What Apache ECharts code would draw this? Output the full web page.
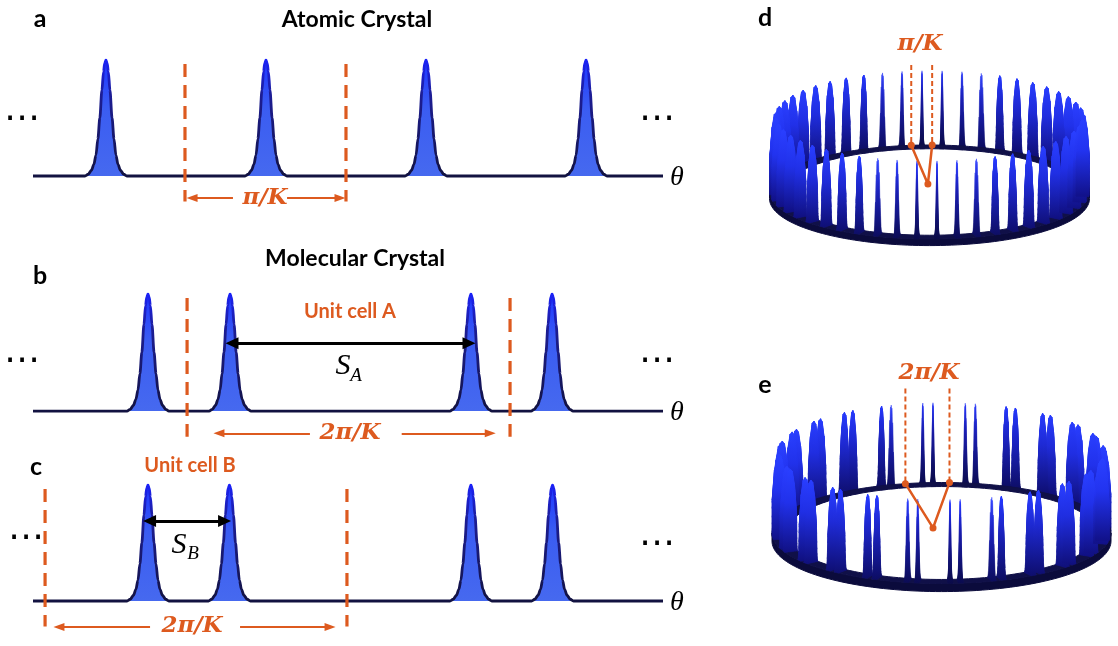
<!DOCTYPE html>
<html><head><meta charset="utf-8">
<script src="https://cdn.jsdelivr.net/npm/echarts@6/dist/echarts.min.js"></script>
<style>html,body{margin:0;padding:0;background:#fff}#c{width:1118px;height:646px}</style>
</head><body><div id="c"></div>
<script>
// ---------- data ----------
// peak profile (offset in units of pi/K, relative height)
const peakShapeOffset = [-0.13,-0.11,-0.09,-0.075,-0.062,-0.05,-0.038,-0.025,-0.015,-0.008,0,0.008,0.015,0.025,0.038,0.05,0.062,0.075,0.09,0.11,0.13];
const peakShapeHeight = [0,0.015,0.05,0.1,0.18,0.32,0.5,0.74,0.9,0.97,1,0.97,0.9,0.74,0.5,0.32,0.18,0.1,0.05,0.015,0];

// panels a-c : theta in units of pi/K
const thetaRange = [0, 3.913];
const peaksA = [0.453, 1.447, 2.441, 3.435];
const peaksB = [0.714, 1.224, 2.720, 3.224];
const peaksC = [0.714, 1.220, 2.720, 3.227];
const cellEdgesA = [0.944, 1.944];
const cellEdgesB = [0.957, 2.963];
const cellEdgesC = [0.075, 1.950];

// panels d-e : peak angles on the ring (degrees), K = 24
const ringStepDeg = 7.5; // pi/K
const ringPeaksD = [2.8,10.3,17.8,25.3,32.8,40.3,47.8,55.3,62.8,70.3,77.8,85.3,92.8,100.3,107.8,115.3,122.8,130.3,137.8,145.3,152.8,160.3,167.8,175.3,182.8,190.3,197.8,205.3,212.8,220.3,227.8,235.3,242.8,250.3,257.8,265.3,272.8,280.3,287.8,295.3,302.8,310.3,317.8,325.3,332.8,340.3,347.8,355.3];
const ringPeaksE = [3.0,6.6,18.0,21.6,33.0,36.6,48.0,51.6,63.0,66.6,78.0,81.6,93.0,96.6,108.0,111.6,123.0,126.6,138.0,141.6,153.0,156.6,168.0,171.6,183.0,186.6,198.0,201.6,213.0,216.6,228.0,231.6,243.0,246.6,258.0,261.6,273.0,276.6,288.0,291.6,303.0,306.6,318.0,321.6,333.0,336.6,348.0,351.6];
const ringCellEdgesD = [96.55, 89.05];
const ringCellEdgesE = [102.3, 87.3];
const ringPeakHeight = 1.62;

// ---------- style ----------
const ORANGE = '#dd5a1f';
const NAVY = '#12123e';
const lineGrad = {type:'linear',x:0,y:0,x2:0,y2:1,colorStops:[{offset:0,color:'#1a22ff'},{offset:0.3,color:'#1d1d95'},{offset:1,color:NAVY}]};
const areaGrad = {type:'linear',x:0,y:0,x2:0,y2:1,colorStops:[{offset:0,color:'#1e36ff'},{offset:0.4,color:'#3a5cf2'},{offset:1,color:'#4669ef'}]};
// ring surface: radial slices and their relative height (rounded ridge across the ring width)
const RING_RADII  = [1, 0.987, 0.973, 0.96, 0.947, 0.933, 0.92];
const RING_RSCALE = [0.45, 0.8, 0.97, 1, 0.97, 0.8, 0.45];
const RING_INNER = 0.92;

function hex2rgb(h){return [parseInt(h.slice(1,3),16),parseInt(h.slice(3,5),16),parseInt(h.slice(5,7),16)];}
function mix(a,b,t){const A=hex2rgb(a),B=hex2rgb(b);return 'rgb('+A.map((v,i)=>Math.round(v+(B[i]-v)*t)).join(',')+')';}
function ringFill(cosv, y0, y1){
  const t = Math.pow(Math.abs(cosv),0.8);
  return {type:'linear',x:0,y:y0,x2:0,y2:y1,global:true,colorStops:[
    {offset:0,color:mix('#2030ff','#2a40ff',t)},
    {offset:0.4,color:mix('#16169a','#2233f0',t)},
    {offset:1,color:mix('#0a0a42','#11118a',t)}]};
}

function profileData(peaks){
  const d=[[thetaRange[0],0]];
  peaks.forEach(c=>peakShapeOffset.forEach((o,i)=>d.push([c+o,peakShapeHeight[i]])));
  d.push([thetaRange[1],0]);
  return d;
}

const grids = [
  {left:33, top:60, width:630, height:156.6},
  {left:33, top:294, width:630, height:158},
  {left:33, top:485, width:630, height:156.6},
  {left:769.5, top:51, width:320, height:206.8},
  {left:772, top:381.5, width:339, height:222.2}
];
const xAxes = grids.map((g,i)=> i<3 ? {gridIndex:i,type:'value',min:thetaRange[0],max:thetaRange[1],show:false}
                                    : {gridIndex:i,type:'value',min:-1,max:1,show:false});
const yAxes = grids.map((g,i)=> i<3 ? {gridIndex:i,type:'value',min:-0.35,max:1,show:false}
                                    : {gridIndex:i,type:'value',min:-1.4,max:3,show:false});

const series = [];
function arrowML(items, color, width, both, sz){
  return {silent:true, animation:false, symbol: both?['triangle','triangle']:['none','triangle'], symbolSize:sz,
    lineStyle:{color:color,width:width,type:'solid'}, label:{show:false}, emphasis:{disabled:true},
    data: items.map(it=>[{coord:it[0]},{coord:it[1]}])};
}
function linePanel(i, peaks, edges, orangeArrows, blackArrows){
  series.push({type:'line', xAxisIndex:i, yAxisIndex:i, data:profileData(peaks), symbol:'none', smooth:0.3, smoothMonotone:'x',
    lineStyle:{width:2.8,color:lineGrad}, areaStyle:{color:areaGrad,opacity:1}, z:3, silent:true,
    markLine: arrowML(orangeArrows, ORANGE, 2, false, [8,11])});
  edges.forEach((e,k)=>{
    const s = {type:'line', xAxisIndex:i, yAxisIndex:i, data:[[e,0.965],[e,-0.22]], symbol:'none',
      lineStyle:{color:ORANGE,width:3.2,type:[13,8]}, z:4, silent:true};
    if(k===0 && blackArrows) s.markLine = arrowML(blackArrows, '#000', 3.2, true, [12,13]);
    series.push(s);
  });
}
linePanel(0, peaksA, cellEdgesA,
  [[[1.242,-0.19],[0.988,-0.19]],[[1.578,-0.19],[1.907,-0.19]]], null);
linePanel(1, peaksB, cellEdgesB,
  [[[1.72,-0.19],[1.155,-0.19]],[[2.29,-0.19],[2.84,-0.19]]],
  [[[peaksB[1]+0.012,0.58],[peaksB[2]-0.012,0.58]]]);
linePanel(2, peaksC, cellEdgesC,
  [[[0.727,-0.225],[0.161,-0.225]],[[1.286,-0.225],[1.845,-0.225]]],
  [[[peaksC[0]+0.01,0.69],[peaksC[1]-0.03,0.69]]]);

// ring panels
const rad = d=>d*Math.PI/180;
function ringPanel(i, peaks, edges, wallH, dashTop, apex){
  const mk = front => ({
    type:'custom', xAxisIndex:i, yAxisIndex:i, z: front?6:4, silent:true,
    data: peaks.filter(a=> front ? Math.sin(rad(a))<0 : Math.sin(rad(a))>=0).map(a=>[Math.cos(rad(a)),Math.sin(rad(a)),a]),
    renderItem:(p,api)=>{
      const c = api.value(2);
      const cs = Math.cos(rad(c));
      const prof = (r,s) => peakShapeOffset.map((o,j)=>{
        const ph = rad(c + o*ringStepDeg);
        return api.coord([r*Math.cos(ph), r*Math.sin(ph) + s*ringPeakHeight*peakShapeHeight[j]]);
      });
      const slices = RING_RADII.map((r,k)=>prof(r,RING_RSCALE[k]));
      const yTip = api.coord([cs, Math.sin(rad(c)) + ringPeakHeight])[1];
      const yBase = api.coord([cs, Math.sin(rad(c))])[1];
      const fill = ringFill(cs, yTip, yBase);
      const st = {fill:fill, stroke:fill, lineWidth:0.5};
      const children = [];
      const needQuads = Math.abs(cs) > 0.35;
      for(let k=0;k<slices.length;k++){
        children.push({type:'polygon', shape:{points:slices[k]}, style:st});
        if(needQuads && k<slices.length-1){
          const A=slices[k], B=slices[k+1];
          for(let j=0;j<A.length-1;j++){
            children.push({type:'polygon', shape:{points:[A[j],A[j+1],B[j+1],B[j]]}, style:st});
          }
        }
      }
      return {type:'group', children:children};
    }
  });
  series.push(mk(false));
  series.push({
    type:'custom', xAxisIndex:i, yAxisIndex:i, z:5, silent:true, data:[[0,0]],
    renderItem:(p,api)=>{
      const ann=[], wall=[];
      for(let a=0;a<=360;a+=2){ ann.push(api.coord([Math.cos(rad(a)),Math.sin(rad(a))])); }
      for(let a=360;a>=0;a-=2){ ann.push(api.coord([RING_INNER*Math.cos(rad(a)),RING_INNER*Math.sin(rad(a))])); }
      for(let a=180;a<=360;a+=2){ wall.push(api.coord([Math.cos(rad(a)),Math.sin(rad(a))])); }
      for(let a=360;a>=180;a-=2){ wall.push(api.coord([Math.cos(rad(a)),Math.sin(rad(a))-wallH])); }
      return {type:'group', children:[
        {type:'polygon', shape:{points:wall}, style:{fill:'#0b0b3c', stroke:'#0b0b3c', lineWidth:1}},
        {type:'polygon', shape:{points:ann}, style:{fill:'#101048', stroke:'#101048', lineWidth:1}}
      ]};
    }
  });
  series.push(mk(true));
  const rimPts = edges.map(e=>[Math.cos(rad(e)),Math.sin(rad(e))]);
  rimPts.forEach(r=>{
    series.push({type:'line', xAxisIndex:i, yAxisIndex:i, data:[[r[0],dashTop],r], symbol:'none', z:7, silent:true,
      lineStyle:{color:ORANGE,width:2,type:[5,3]}});
  });
  series.push({type:'line', xAxisIndex:i, yAxisIndex:i, data:[rimPts[0],apex,rimPts[1]], symbol:'circle', symbolSize:7, z:8, silent:true,
    lineStyle:{color:ORANGE,width:2.5}, itemStyle:{color:ORANGE}});
}
ringPanel(3, ringPeaksD, ringCellEdgesD, 0.14, 2.70, [-0.01,0.17]);
ringPanel(4, ringPeaksE, ringCellEdgesE, 0.16, 2.86, [-0.05,0.1]);

// ---------- text ----------
const T = (x,y,text,font,fill,align)=>({type:'text', x:x, y:y, silent:true, z:20,
  style:{text:text, font:font, fill:fill||'#000', align:align||'center', verticalAlign:'middle'}});
const sb = s=>'bold '+s+'px Lato';
const MATHB = s=>'italic bold '+s+'px "DejaVu Serif"';
const MATH = s=>'italic '+s+'px "Liberation Serif"';
const DOTS = '36px "DejaVu Sans"';
const graphics = [
  T(40,19,'a',sb(25)), T(357,20,'Atomic Crystal',sb(23)),
  T(40,276,'b',sb(25)), T(355,259,'Molecular Crystal',sb(23)),
  T(36,467,'c',sb(25)),
  T(765,18,'d',sb(25)), T(765,385,'e',sb(25)),
  T(350,312,'Unit cell A',sb(20),ORANGE), T(190,466,'Unit cell B',sb(20),ORANGE),
  T(265,198,'π/K',MATHB(23),ORANGE), T(350,433,'2π/K',MATHB(23),ORANGE), T(192,626,'2π/K',MATHB(23),ORANGE),
  T(920,44,'π/K',MATHB(23),ORANGE), T(929,373,'2π/K',MATHB(23),ORANGE),
  T(343,366,'S',MATH(30)), T(356,376,'A',MATH(19)),
  T(179,545,'S',MATH(30)), T(193,554,'B',MATH(19)),
  T(677,178,'θ',MATH(28)), T(677,413,'θ',MATH(28)), T(677,603,'θ',MATH(28)),
  T(22,120,'⋯',DOTS), T(657,120,'⋯',DOTS),
  T(22,362,'⋯',DOTS), T(657,362,'⋯',DOTS),
  T(26,539,'⋯',DOTS), T(657,545,'⋯',DOTS)
];

const chart = echarts.init(document.getElementById('c'), null, {renderer:'canvas'});
chart.setOption({
  animation:false,
  backgroundColor:'#fff',
  grid: grids, xAxis: xAxes, yAxis: yAxes,
  series: series,
  graphic: graphics
});
</script></body></html>
